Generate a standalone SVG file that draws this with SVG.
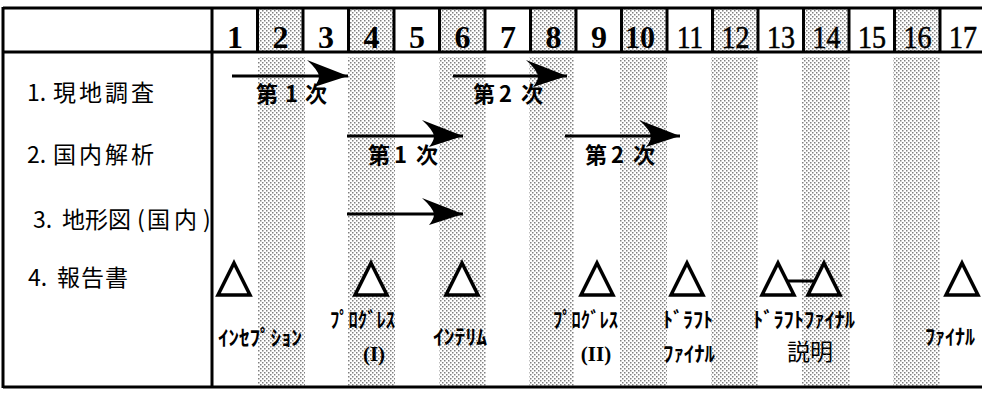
<svg xmlns="http://www.w3.org/2000/svg" width="982" height="396" viewBox="0 0 982 396">
  <defs>
    <!-- halftone screen used for the alternate month columns -->
    <pattern id="dots" width="4" height="4" patternUnits="userSpaceOnUse">
      <rect width="4" height="4" fill="#ffffff"/>
      <rect x="0" y="0" width="1.5" height="1.5" fill="#808080"/>
      <rect x="2" y="2" width="1.5" height="1.5" fill="#808080"/>
    </pattern>
    <marker id="head" markerUnits="userSpaceOnUse" markerWidth="48" markerHeight="34" viewBox="-44 -18 48 34" refX="0" refY="0" orient="auto">
      <path d="M0,0 L-41,-16 Q-30,-6 -29,0 Q-29,5 -34,11 Z" fill="#000"/>
    </marker>
    <clipPath id="leftcol">
      <rect x="0" y="0" width="211" height="396"/>
    </clipPath>
    <style>
      .frame { stroke: #000; stroke-width: 3; fill: none; }
      .num { font-family: "Liberation Serif", serif; font-size: 32px; font-weight: bold; text-anchor: middle; fill: #000; }
      .num2 { font-family: "Liberation Serif", serif; font-size: 32px; text-anchor: middle; fill: #000; stroke: #000; stroke-width: 0.6; }
      .row { font-family: "Noto Sans CJK JP", "Noto Sans", sans-serif; font-size: 23px; fill: #000; }
      .rowcjk { letter-spacing: 3px; }
      .phase { font-family: "Noto Sans CJK JP", sans-serif; font-size: 22px; font-weight: bold; fill: #000; }
      .kana { font-family: "Noto Sans CJK JP", sans-serif; font-size: 21px; font-weight: bold; fill: #000; }
      .roman { font-family: "Liberation Serif", serif; font-size: 21px; font-weight: bold; text-anchor: middle; fill: #000; }
      .tri { fill: #fff; stroke: #000; stroke-width: 3.5; stroke-linejoin: miter; }
      .shaft { stroke: #000; stroke-width: 3; fill: none; marker-end: url(#head); }
      .shade { fill: url(#dots); }
    </style>
  </defs>

  <rect width="982" height="396" fill="#fff"/>

  <!-- shaded even months: header cells and body stripes -->
  <g id="stripes">
    <rect class="shade" x="258" y="9" width="46" height="42"/>
    <rect class="shade" x="349" y="9" width="45" height="42"/>
    <rect class="shade" x="440" y="9" width="45" height="42"/>
    <rect class="shade" x="531" y="9" width="45" height="42"/>
    <rect class="shade" x="622" y="9" width="45" height="42"/>
    <rect class="shade" x="713" y="9" width="45" height="42"/>
    <rect class="shade" x="804" y="9" width="45" height="42"/>
    <rect class="shade" x="895" y="9" width="45" height="42"/>

    <rect class="shade" x="258" y="57" width="47" height="329"/>
    <rect class="shade" x="348" y="57" width="47" height="329"/>
    <rect class="shade" x="439" y="57" width="47" height="329"/>
    <rect class="shade" x="529" y="57" width="45" height="329"/>
    <rect class="shade" x="620" y="57" width="47" height="329"/>
    <rect class="shade" x="711" y="57" width="47" height="329"/>
    <rect class="shade" x="802" y="57" width="48" height="329"/>
    <rect class="shade" x="893" y="57" width="47" height="329"/>
  </g>

  <!-- table frame -->
  <g id="frame">
    <line class="frame" x1="3" y1="8" x2="982" y2="8"/>
    <line class="frame" x1="3" y1="52" x2="982" y2="52"/>
    <line class="frame" x1="3" y1="387" x2="982" y2="387"/>
    <line class="frame" x1="3" y1="7" x2="3" y2="388"/>
    <line class="frame" x1="212" y1="7" x2="212" y2="388"/>
    <g class="frame">
      <line x1="257.5" y1="8" x2="257.5" y2="52"/>
      <line x1="303" y1="8" x2="303" y2="52"/>
      <line x1="348.5" y1="8" x2="348.5" y2="52"/>
      <line x1="394" y1="8" x2="394" y2="52"/>
      <line x1="439.5" y1="8" x2="439.5" y2="52"/>
      <line x1="485" y1="8" x2="485" y2="52"/>
      <line x1="530.5" y1="8" x2="530.5" y2="52"/>
      <line x1="576" y1="8" x2="576" y2="52"/>
      <line x1="621.5" y1="8" x2="621.5" y2="52"/>
      <line x1="667" y1="8" x2="667" y2="52"/>
      <line x1="712.5" y1="8" x2="712.5" y2="52"/>
      <line x1="758" y1="8" x2="758" y2="52"/>
      <line x1="803.5" y1="8" x2="803.5" y2="52"/>
      <line x1="849" y1="8" x2="849" y2="52"/>
      <line x1="894.5" y1="8" x2="894.5" y2="52"/>
      <line x1="940" y1="8" x2="940" y2="52"/>
    </g>
  </g>

  <!-- month numbers -->
  <g id="months">
    <text class="num" x="235" y="48">1</text>
    <text class="num" x="280.5" y="48">2</text>
    <text class="num" x="326" y="48">3</text>
    <text class="num" x="371.5" y="48">4</text>
    <text class="num" x="417" y="48">5</text>
    <text class="num" x="462.5" y="48">6</text>
    <text class="num" x="508" y="48">7</text>
    <text class="num" x="553.5" y="48">8</text>
    <text class="num" x="599" y="48">9</text>
    <text class="num" x="640" y="48" textLength="30" lengthAdjust="spacingAndGlyphs">10</text>
    <text class="num2" x="690" y="48" textLength="26" lengthAdjust="spacingAndGlyphs">11</text>
    <text class="num2" x="735.5" y="48" textLength="28" lengthAdjust="spacingAndGlyphs">12</text>
    <text class="num2" x="781" y="48" textLength="28" lengthAdjust="spacingAndGlyphs">13</text>
    <text class="num2" x="826.5" y="48" textLength="28" lengthAdjust="spacingAndGlyphs">14</text>
    <text class="num2" x="872" y="48" textLength="28" lengthAdjust="spacingAndGlyphs">15</text>
    <text class="num2" x="917.5" y="48" textLength="28" lengthAdjust="spacingAndGlyphs">16</text>
    <text class="num2" x="963" y="48" textLength="28" lengthAdjust="spacingAndGlyphs">17</text>
  </g>

  <!-- work items -->
  <g id="item-survey">
    <text class="row" y="101"><tspan x="27">1.</tspan><tspan class="rowcjk" x="53">現地調査</tspan></text>
  </g>
  <g id="item-analysis">
    <text class="row" y="163"><tspan x="27">2.</tspan><tspan class="rowcjk" x="53">国内解析</tspan></text>
  </g>
  <g id="item-mapping" clip-path="url(#leftcol)">
    <text class="row" y="228"><tspan x="33">3.</tspan><tspan x="62">地形図</tspan><tspan x="137">(</tspan><tspan x="147" letter-spacing="4">国内</tspan><tspan x="203">)</tspan></text>
  </g>
  <g id="item-reports">
    <text class="row" y="286"><tspan x="28">4.</tspan><tspan x="57" letter-spacing="1">報告書</tspan></text>
  </g>

  <!-- schedule bars -->
  <g id="connectors">
    <line class="shaft" x1="232" y1="76" x2="348" y2="76"/>
    <line class="shaft" x1="453" y1="76" x2="567" y2="76"/>
    <line class="shaft" x1="347" y1="136" x2="463" y2="136"/>
    <line class="shaft" x1="565" y1="136" x2="680" y2="136"/>
    <line class="shaft" x1="347" y1="214" x2="463" y2="214"/>
    <line x1="788" y1="281" x2="815" y2="281" stroke="#000" stroke-width="3"/>
  </g>

  <!-- bar labels -->
  <g id="bar-labels">
    <text class="phase" y="102"><tspan x="256">第</tspan><tspan x="285">1</tspan><tspan x="305">次</tspan></text>
    <text class="phase" y="102"><tspan x="473">第</tspan><tspan x="499">2</tspan><tspan x="521">次</tspan></text>
    <text class="phase" y="163"><tspan x="368">第</tspan><tspan x="394">1</tspan><tspan x="416">次</tspan></text>
    <text class="phase" y="163"><tspan x="585">第</tspan><tspan x="611">2</tspan><tspan x="633">次</tspan></text>
  </g>

  <!-- report milestones -->
  <g id="report-inception">
    <path class="tri" d="M234,263 L250,295 L218,295 Z"/>
    <text class="kana" x="218" y="345" textLength="84" lengthAdjust="spacingAndGlyphs">ｲﾝｾﾌﾟｼｮﾝ</text>
  </g>
  <g id="report-progress-1">
    <path class="tri" d="M371,263 L387,295 L355,295 Z"/>
    <text class="kana" x="330" y="327" textLength="65" lengthAdjust="spacingAndGlyphs">ﾌﾟﾛｸﾞﾚｽ</text>
    <text class="roman" x="374" y="361">(I)</text>
  </g>
  <g id="report-interim">
    <path class="tri" d="M462,263 L478,295 L446,295 Z"/>
    <text class="kana" x="433" y="344" textLength="54" lengthAdjust="spacingAndGlyphs">ｲﾝﾃﾘﾑ</text>
  </g>
  <g id="report-progress-2">
    <path class="tri" d="M597,263 L613,295 L581,295 Z"/>
    <text class="kana" x="553" y="327" textLength="65" lengthAdjust="spacingAndGlyphs">ﾌﾟﾛｸﾞﾚｽ</text>
    <text class="roman" x="596" y="361">(II)</text>
  </g>
  <g id="report-draft-final">
    <path class="tri" d="M687,263 L703,295 L671,295 Z"/>
    <text class="kana" x="663" y="327" textLength="50" lengthAdjust="spacingAndGlyphs">ﾄﾞﾗﾌﾄ</text>
    <text class="kana" x="663" y="361" textLength="52" lengthAdjust="spacingAndGlyphs">ﾌｧｲﾅﾙ</text>
  </g>
  <g id="report-draft-briefing">
    <path class="tri" d="M778,263 L794,295 L762,295 Z"/>
    <path class="tri" d="M824,263 L840,295 L808,295 Z"/>
    <text class="kana" x="753" y="327" textLength="102" lengthAdjust="spacingAndGlyphs">ﾄﾞﾗﾌﾄﾌｧｲﾅﾙ</text>
    <text class="row" x="787" y="360" font-size="24">説明</text>
  </g>
  <g id="report-final">
    <path class="tri" d="M962,263 L978,295 L946,295 Z"/>
    <text class="kana" x="925" y="344" textLength="50" lengthAdjust="spacingAndGlyphs">ﾌｧｲﾅﾙ</text>
  </g>
</svg>
